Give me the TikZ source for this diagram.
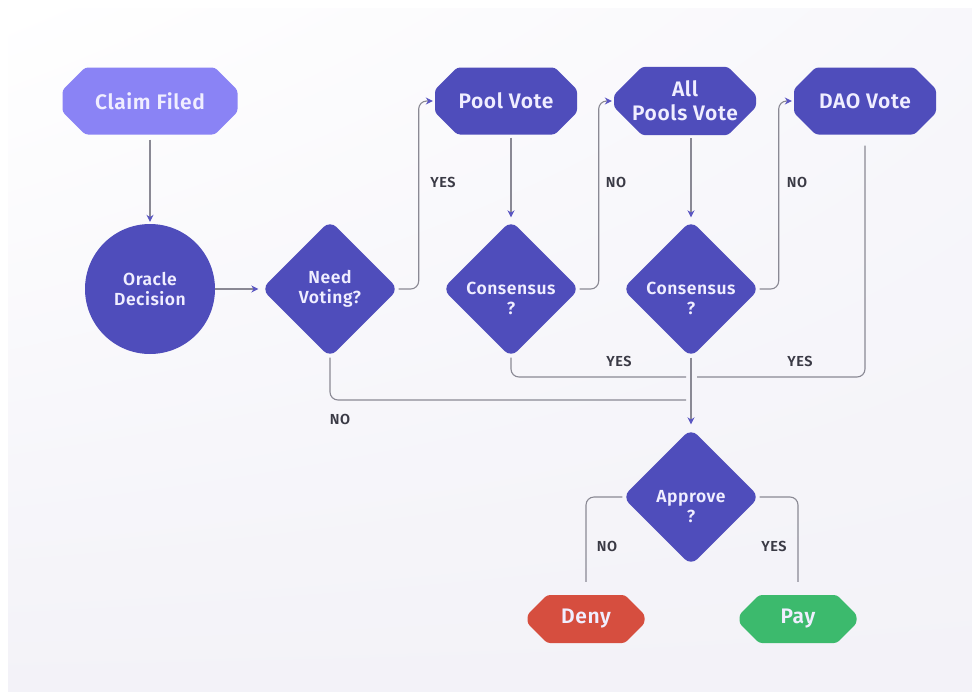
\documentclass[tikz,border=0pt]{standalone}
\usepackage{fontspec}
\setmainfont{Fira Sans}[LetterSpace=3, BoldFont={Fira Sans SemiBold}]
\usetikzlibrary{shapes.misc,shapes.geometric,arrows.meta,shadings}
\definecolor{lightpurple}{HTML}{8A83F5}
\definecolor{darkpurple}{HTML}{4F4DBB}
\definecolor{denyred}{HTML}{D64E3F}
\definecolor{paygreen}{HTML}{3CBA6D}
\definecolor{nodetext}{HTML}{F0EEFF}
\definecolor{linegray}{HTML}{8A8994}
\definecolor{arrowpurple}{HTML}{5A56C2}
\definecolor{labeltext}{HTML}{3A3A45}
\definecolor{panelbg}{HTML}{F3F2F8}
\tikzset{
  box/.style={chamfered rectangle, chamfered rectangle xsep=14pt, chamfered rectangle ysep=14pt,
    rounded corners=3pt, fill=darkpurple, text=nodetext, font=\fontsize{21}{24}\selectfont\bfseries,
    minimum width=142pt, minimum height=67pt, inner sep=0pt, align=center},
  smallbox/.style={box, minimum width=117pt, minimum height=48pt, chamfered rectangle xsep=10pt, chamfered rectangle ysep=10pt},
  decision/.style={diamond, rounded corners=9pt, fill=darkpurple, text=nodetext,
    font=\fontsize{17.5}{20}\selectfont\bfseries, minimum width=137pt, minimum height=137pt, inner sep=0pt, align=center},
  dtext/.style={label={[text=nodetext, font=\fontsize{17.5}{20}\selectfont\bfseries, align=center, inner sep=0pt, yshift=#1]center:}},
  conn/.style={draw=linegray, line width=1.1pt, rounded corners=8pt},
  arr/.style={conn, -{Stealth[length=7pt,width=7pt,color=arrowpurple]}},
  lbl/.style={text=labeltext, font=\fontsize{14.5}{17}\selectfont\bfseries, inner sep=0pt}
}
\begin{document}
\begin{tikzpicture}[x=1pt,y=-1pt]
\useasboundingbox (0,0) rectangle (972,691);
\fill[white] (0,0) rectangle (972,691);
\shade[upper left=white, upper right=panelbg!60, lower left=panelbg, lower right=panelbg] (8,8) rectangle (972,691);

% nodes
\node[box, fill=lightpurple, minimum width=175pt] (claim) at (150,101) {Claim Filed};
\node[circle, fill=darkpurple, text=nodetext, font=\fontsize{17.5}{20}\selectfont\bfseries,
  minimum size=130pt, inner sep=0pt, align=center] (oracle) at (150,289) {Oracle\\Decision};
\node[decision] (need) at (330,289) {Need\\Voting?};
\node[box] (pool) at (506,101) {Pool Vote};
\node[decision, label={[text=nodetext, font=\fontsize{17.5}{20}\selectfont\bfseries, align=center, inner sep=0pt, yshift=-9pt]center:{Consensus\\?}}] (cons1) at (511,289) {};
\node[box] (allpools) at (685,101) {All\\Pools Vote};
\node[decision, label={[text=nodetext, font=\fontsize{17.5}{20}\selectfont\bfseries, align=center, inner sep=0pt, yshift=-9pt]center:{Consensus\\?}}] (cons2) at (691,289) {};
\node[box] (dao) at (865,101) {DAO Vote};
\node[decision, label={[text=nodetext, font=\fontsize{17.5}{20}\selectfont\bfseries, align=center, inner sep=0pt, yshift=-10pt]center:{Approve\\?}}] (approve) at (691,497) {};
\node[smallbox, fill=denyred] (deny) at (586,619) {Deny};
\node[smallbox, fill=paygreen] (pay) at (798,619) {Pay};

\coordinate (mergeA) at (686,377);
\coordinate (mergeB) at (697,377);
\coordinate (mergeC) at (686,400);

% connectors
\draw[arr, shorten <=5pt, shorten >=2pt] (claim.south) -- (oracle.north);
\draw[arr, shorten >=3pt] (oracle.east) -- (need.west);
\draw[arr, shorten >=2pt] (need.east) -- ++(20,0) |- (pool.west);
\draw[arr, shorten <=3pt, shorten >=3pt] (pool.south -| cons1.north) -- (cons1.north);
\draw[arr, shorten >=2pt] (cons1.east) -- ++(19,0) |- (allpools.west);
\draw[arr, shorten <=3pt, shorten >=3pt] (allpools.south -| cons2.north) -- (cons2.north);
\draw[arr, shorten >=2pt] (cons2.east) -- ++(19,0) |- (dao.west);
\draw[conn] (cons1.south) |- (mergeA);
\draw[conn] ([yshift=-11pt]dao.south) |- (mergeB);
\draw[conn] (need.south) |- (mergeC);
\draw[arr, shorten >=4pt] (cons2.south) -- (approve.north);
\draw[conn] (approve.west) -| ([yshift=13pt]deny.north);
\draw[conn] (approve.east) -| ([yshift=13pt]pay.north);

% labels
\node[lbl] (l1) at (443,182) {YES};
\node[lbl] (l2) at (616,182) {NO};
\node[lbl] (l3) at (797,182) {NO};
\node[lbl] (l4) at (619,361) {YES};
\node[lbl] (l5) at (800,361) {YES};
\node[lbl] (l6) at (340,419) {NO};
\node[lbl] (l7) at (607,546) {NO};
\node[lbl] (l8) at (774,546) {YES};
\end{tikzpicture}
\end{document}
